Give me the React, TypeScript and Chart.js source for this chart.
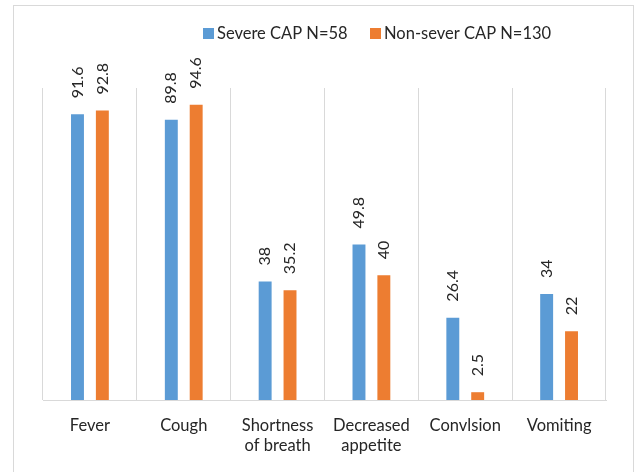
import React, { useEffect, useRef } from "react";
import { Chart, registerables } from "chart.js";

Chart.register(...registerables);

const categories: (string | string[])[] = [
  "Fever",
  "Cough",
  ["Shortness", "of breath"],
  ["Decreased", "appetite"],
  "Convlsion",
  "Vomiting",
];
const seriesNames = ["Severe CAP N=58", "Non-sever CAP N=130"];
const severeValues = [91.6, 89.8, 38, 49.8, 26.4, 34];
const nonSevereValues = [92.8, 94.6, 35.2, 40, 2.5, 22];
const colors = ["#5B9BD5", "#ED7D31"];

const FONT = "Lato, 'Open Sans', sans-serif";
const TEXT = "#262626";

const framePlugin = {
  id: "frame",
  beforeDraw(chart: any) {
    const ctx = chart.ctx;
    ctx.save();
    ctx.fillStyle = "#ffffff";
    ctx.fillRect(0, 0, chart.width, chart.height);
    ctx.strokeStyle = "#d9d9d9";
    ctx.lineWidth = 1;
    ctx.strokeRect(13.5, 5.5, 620, 520);
    ctx.restore();
  },
};

const legendPlugin = {
  id: "customLegend",
  afterDraw(chart: any) {
    const ctx = chart.ctx;
    ctx.save();
    ctx.font = `16.5px ${FONT}`;
    ctx.textBaseline = "middle";
    ctx.textAlign = "left";
    const y = 33.5;
    const boxX = [203, 370];
    chart.data.datasets.forEach((ds: any, i: number) => {
      ctx.fillStyle = ds.backgroundColor;
      ctx.fillRect(boxX[i], y - 5.5, 11, 11);
      ctx.fillStyle = TEXT;
      ctx.fillText(ds.label, boxX[i] + 14, y);
    });
    ctx.restore();
  },
};

const valueLabelPlugin = {
  id: "valueLabels",
  afterDatasetsDraw(chart: any) {
    const ctx = chart.ctx;
    ctx.save();
    ctx.font = `16px ${FONT}`;
    ctx.fillStyle = TEXT;
    ctx.textAlign = "left";
    ctx.textBaseline = "middle";
    chart.data.datasets.forEach((ds: any, di: number) => {
      const meta = chart.getDatasetMeta(di);
      meta.data.forEach((el: any, i: number) => {
        ctx.save();
        ctx.translate(el.x, el.y - 16);
        ctx.rotate(-Math.PI / 2);
        ctx.fillText(String(ds.data[i]), 0, 0);
        ctx.restore();
      });
    });
    ctx.restore();
  },
};

export default function App() {
  const ref = useRef<HTMLCanvasElement>(null);
  useEffect(() => {
    if (!ref.current) return;
    const chart = new Chart(ref.current, {
      type: "bar",
      data: {
        labels: categories,
        datasets: [
          {
            label: seriesNames[0],
            data: severeValues,
            backgroundColor: colors[0],
            categoryPercentage: 0.53,
            barPercentage: 0.52,
          },
          {
            label: seriesNames[1],
            data: nonSevereValues,
            backgroundColor: colors[1],
            categoryPercentage: 0.53,
            barPercentage: 0.52,
          },
        ],
      },
      options: {
        responsive: false,
        animation: false,
        layout: { padding: { left: 43, right: 30, top: 88, bottom: 0 } },
        plugins: {
          legend: { display: false },
          tooltip: { enabled: false },
        },
        scales: {
          x: {
            afterFit: (scale: any) => {
              scale.height = 72;
            },
            grid: {
              display: true,
              offset: true,
              color: "#d9d9d9",
              drawTicks: false,
            },
            border: { display: true, color: "#d9d9d9" },
            ticks: {
              color: TEXT,
              font: { family: FONT, size: 16.5, lineHeight: 1.25 },
              padding: 15,
              maxRotation: 0,
              autoSkip: false,
            },
          },
          y: {
            display: false,
            min: 0,
            max: 100,
          },
        },
      },
      plugins: [framePlugin, legendPlugin, valueLabelPlugin],
    });
    return () => chart.destroy();
  }, []);
  return (
    <div style={{ position: "fixed", left: 0, top: 0, width: 636, height: 472, background: "#fff" }}>
      <canvas ref={ref} width={636} height={472} style={{ display: "block" }} />
    </div>
  );
}
